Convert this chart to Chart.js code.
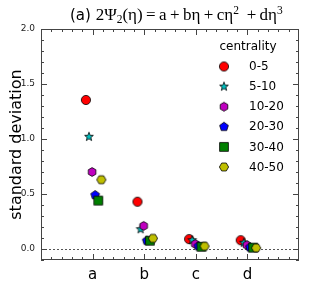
<!DOCTYPE html>
<html>
<head>
<meta charset="utf-8">
<script src="https://cdn.jsdelivr.net/npm/chart.js@4.4.0/dist/chart.umd.min.js"></script>
<style>
  html, body { margin: 0; padding: 0; background: #fff; }
  #wrap { width: 332px; height: 289px; }
</style>
</head>
<body>
<div id="wrap"><canvas id="c" width="332" height="289"></canvas></div>
<script>
// values
const categories = ['a', 'b', 'c', 'd'];
const centralities = ['0-5', '5-10', '10-20', '20-30', '30-40', '40-50'];
const sd0_5   = [1.355, 0.43, 0.09, 0.08];
const sd5_10  = [1.02, 0.18, 0.08, 0.057];
const sd10_20 = [0.70, 0.21, 0.045, 0.035];
const sd20_30 = [0.49, 0.075, 0.025, 0.015];
const sd30_40 = [0.44, 0.075, 0.02, 0.012];
const sd40_50 = [0.63, 0.097, 0.025, 0.01];
const xOffsets = [-0.13, -0.07, -0.01, 0.05, 0.11, 0.17];
const yTicks = [0, 0.5, 1.0, 1.5, 2.0];

const seriesValues = [sd0_5, sd5_10, sd10_20, sd20_30, sd30_40, sd40_50];
const markerDefs = [
    { shape: 'circle',   color: '#ff0000', r: 4.6 },
    { shape: 'star',     color: '#00bfbf', r: 4.6 },
    { shape: 'hexagon',  color: '#bf00bf', r: 4.4 },
    { shape: 'pentagon', color: '#0000ff', r: 4.6 },
    { shape: 'square',   color: '#008000', r: 4.4 },
    { shape: 'hexagon2', color: '#bfbf00', r: 4.6 }
];

// build a small canvas per marker, used as pointStyle and in the legend
const makeMarker = (def) => {
    const size = 14;
    const cv = document.createElement('canvas');
    cv.width = size; cv.height = size;
    const g = cv.getContext('2d');
    const c = size / 2, r = def.r;
    g.beginPath();
    if (def.shape === 'circle') {
        g.arc(c, c, r, 0, Math.PI * 2);
    } else if (def.shape === 'square') {
        g.rect(c - r, c - r, 2 * r, 2 * r);
    } else if (def.shape === 'star') {
        for (let i = 0; i < 10; i++) {
            const rr = i % 2 === 0 ? r : r * 0.42;
            const a = -Math.PI / 2 + i * Math.PI / 5;
            g.lineTo(c + rr * Math.cos(a), c + rr * Math.sin(a));
        }
        g.closePath();
    } else {
        const n = def.shape === 'pentagon' ? 5 : 6;
        const start = def.shape === 'hexagon2' ? 0 : -Math.PI / 2;
        for (let i = 0; i < n; i++) {
            const a = start + i * 2 * Math.PI / n;
            g.lineTo(c + r * Math.cos(a), c + r * Math.sin(a));
        }
        g.closePath();
    }
    g.fillStyle = def.color;
    g.fill();
    g.lineWidth = 0.8;
    g.strokeStyle = '#000';
    g.stroke();
    return cv;
};
const markers = markerDefs.map(makeMarker);

const datasets = centralities.map((name, i) => ({
    label: name,
    data: seriesValues[i].map((v, k) => ({ x: k + 1 + xOffsets[i], y: v })),
    pointStyle: markers[i],
    pointRadius: 5,
    order: centralities.length - i
}));

// frame, inward ticks, zero line, title and legend
const decor = {
    id: 'decor',
    beforeDatasetsDraw(chart) {
        const { ctx, chartArea: a, scales: { y } } = chart;
        ctx.save();
        const y0 = Math.round(y.getPixelForValue(0)) + 0.5;
        ctx.setLineDash([2, 2]);
        ctx.strokeStyle = '#555';
        ctx.lineWidth = 1;
        ctx.beginPath();
        ctx.moveTo(a.left, y0); ctx.lineTo(a.right, y0);
        ctx.stroke();
        ctx.restore();
    },
    afterDraw(chart) {
        const { ctx, chartArea: a, scales: { x, y } } = chart;
        ctx.save();
        ctx.strokeStyle = '#444';
        ctx.lineWidth = 1;
        ctx.strokeRect(a.left + 0.5, a.top + 0.5, a.right - a.left - 1, a.bottom - a.top - 1);

        ctx.beginPath();
        for (let v = -0.1; v <= 2.0001; v += 0.1) {
            const p = Math.round(y.getPixelForValue(v)) + 0.5;
            const major = Math.abs(v * 2 - Math.round(v * 2)) < 1e-6;
            const len = major ? 6 : 3;
            ctx.moveTo(a.left, p); ctx.lineTo(a.left + len, p);
            ctx.moveTo(a.right, p); ctx.lineTo(a.right - len, p);
        }
        for (let v = 0.2; v < 5; v += 0.2) {
            const p = Math.round(x.getPixelForValue(v)) + 0.5;
            const major = Math.abs(v - Math.round(v)) < 1e-6;
            const len = major ? 6 : 3;
            ctx.moveTo(p, a.bottom); ctx.lineTo(p, a.bottom - len);
            ctx.moveTo(p, a.top); ctx.lineTo(p, a.top + len);
        }
        ctx.stroke();

        // title: "(a)" in sans, the formula in serif
        ctx.fillStyle = '#000';
        ctx.textBaseline = 'alphabetic';
        ctx.textAlign = 'left';
        let tx = 70;
        const base = 20;
        const parts = [
            ['(a) ', '15px "DejaVu Sans"', 0],
            ['2Ψ', '17px "Liberation Serif"', 0],
            ['2', '11.5px "Liberation Serif"', 3],
            ['(η)\u2009=\u2009a\u2009+\u2009bη\u2009+\u2009cη', '17px "Liberation Serif"', 0],
            ['2', '11.5px "Liberation Serif"', -6],
            ['\u2009 +\u2009dη', '17px "Liberation Serif"', 0],
            ['3', '11.5px "Liberation Serif"', -6]
        ];
        parts.forEach(([t, f, dy]) => {
            ctx.font = f;
            ctx.fillText(t, tx, base + dy);
            tx += ctx.measureText(t).width;
        });

        // legend
        ctx.font = '12px "DejaVu Sans"';
        ctx.textAlign = 'center';
        ctx.textBaseline = 'middle';
        ctx.fillText('centrality', 248, 47);
        ctx.textAlign = 'left';
        centralities.forEach((name, i) => {
            const ly = 66.5 + i * 20.1;
            ctx.drawImage(markers[i], 224 - markers[i].width / 2, ly - markers[i].height / 2);
            ctx.fillText(name, 249, ly + 0.5);
        });
        ctx.restore();
    }
};

new Chart(document.getElementById('c'), {
    type: 'scatter',
    data: { datasets },
    options: {
        responsive: false,
        animation: false,
        events: [],
        layout: { padding: { top: 29, right: 33, left: 0, bottom: 0 } },
        plugins: { legend: { display: false }, tooltip: { enabled: false } },
        scales: {
            x: {
                type: 'linear', min: 0, max: 5,
                grid: { display: false, drawTicks: false },
                border: { display: false },
                afterBuildTicks: s => { s.ticks = categories.map((c, k) => ({ value: k + 1 })); },
                afterFit: s => { s.height = 29; },
                ticks: {
                    padding: 6,
                    color: '#000',
                    font: { family: 'DejaVu Sans', size: 15 },
                    callback: v => categories[Math.round(v) - 1]
                }
            },
            y: {
                min: -0.1, max: 2.0,
                grid: { display: false, drawTicks: false },
                border: { display: false },
                afterBuildTicks: s => { s.ticks = yTicks.map(v => ({ value: v })); },
                afterFit: s => { s.width = 41; },
                ticks: {
                    padding: 6,
                    color: '#222',
                    font: { family: 'DejaVu Sans', size: 9 },
                    callback: v => v.toFixed(1)
                },
                title: {
                    display: true,
                    text: 'standard deviation',
                    color: '#000',
                    font: { family: 'DejaVu Sans', size: 16 },
                    padding: { top: 7, bottom: 0 }
                }
            }
        }
    },
    plugins: [decor]
});
</script>
</body>
</html>
